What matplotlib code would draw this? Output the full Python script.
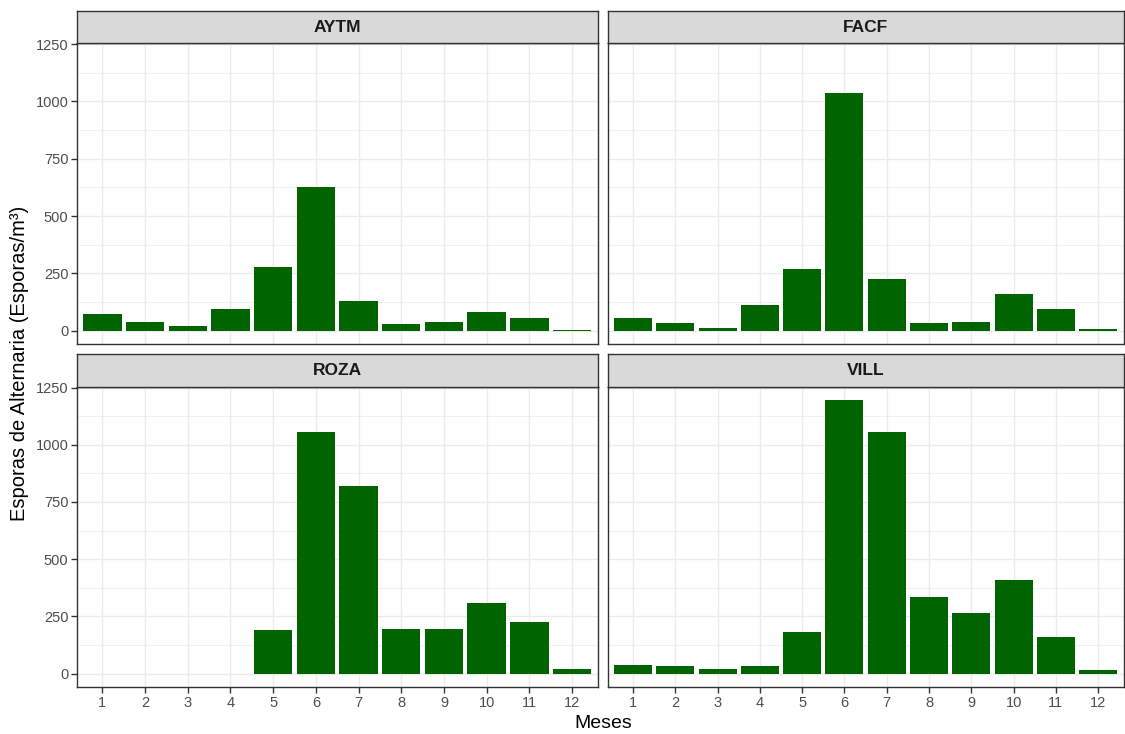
import matplotlib.pyplot as plt
import numpy as np

plt.rcParams['font.family'] = ['Liberation Sans', 'DejaVu Sans']

meses = [1, 2, 3, 4, 5, 6, 7, 8, 9, 10, 11, 12]
estaciones = ["AYTM", "FACF", "ROZA", "VILL"]

# esporas/m3 por mes
aytm = [74, 36, 19, 94, 279, 626, 131, 28, 36, 83, 57, 3]
facf = [55, 32, 12, 113, 270, 1038, 225, 35, 39, 158, 93, 9]
roza = [0, 0, 0, 0, 191, 1054, 822, 194, 197, 309, 224, 22]
vill = [39, 35, 22, 32, 182, 1194, 1055, 336, 265, 410, 160, 17]
datos = [aytm, facf, roza, vill]

W, H = 1125, 734
fig = plt.figure(figsize=(W / 100, H / 100), dpi=100)

# panel boxes in pixels: left, top, right, bottom
cajas = [(76.7, 43.3, 597.7, 344.3), (607.7, 43.3, 1123.5, 344.3),
         (76.7, 386.7, 597.7, 687.3), (607.7, 386.7, 1123.5, 687.3)]
alto_strip = 32.5

ymax = max(max(d) for d in datos)
ylo, yhi = -0.05 * ymax, ymax * 1.05

for i, (nombre, vals) in enumerate(zip(estaciones, datos)):
    l, t, r, b = cajas[i]
    ax = fig.add_axes([l / W, 1 - b / H, (r - l) / W, (b - t) / H])
    ax.set_xlim(0.4, 12.6)
    ax.set_ylim(ylo, yhi)
    ax.set_yticks([0, 250, 500, 750, 1000, 1250])
    ax.set_yticks([125, 375, 625, 875, 1125], minor=True)
    ax.set_xticks(meses)
    ax.grid(which='major', color='#EBEBEB', lw=1.0, zorder=0)
    ax.grid(which='minor', axis='y', color='#EBEBEB', lw=0.5, zorder=0)
    ax.set_axisbelow(True)
    ax.bar(meses, vals, width=0.9, color='#006400', zorder=2)
    for s in ax.spines.values():
        s.set_color('#333333')
        s.set_linewidth(1.0)
    ax.tick_params(which='minor', length=0)
    ax.tick_params(which='major', color='#333333', length=4, width=1,
                   labelsize=10.5, labelcolor='#4D4D4D', pad=2)
    if i % 2 == 1:
        ax.tick_params(axis='y', left=False, labelleft=False)
    if i < 2:
        ax.tick_params(axis='x', bottom=False, labelbottom=False)

    # strip
    sx = fig.add_axes([l / W, 1 - t / H, (r - l) / W, alto_strip / H])
    sx.set_facecolor('#D9D9D9')
    sx.set_xticks([])
    sx.set_yticks([])
    for s in sx.spines.values():
        s.set_color('#333333')
        s.set_linewidth(1.0)
    sx.text(0.5, 0.5, nombre, ha='center', va='center', fontsize=12.5,
            fontweight='bold', color='#1A1A1A', transform=sx.transAxes)

fig.text(603 / W, 1 - 723 / H, "Meses", ha='center', va='center', fontsize=14)
fig.text(20 / W, 1 - 363 / H, "Esporas de Alternaria (Esporas/m³)", ha='center',
         va='center', rotation=90, fontsize=14.5)

fig.savefig("out.png", dpi=100)
